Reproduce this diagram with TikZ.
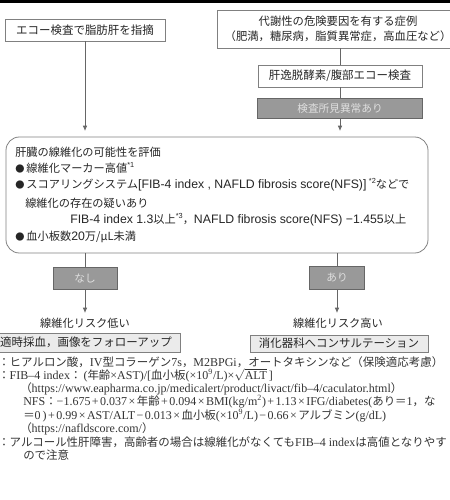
\documentclass[tikz,border=0pt]{standalone}
\usepackage{fontspec}
\setmainfont{Liberation Serif}
\newfontfamily\jp{Noto Sans CJK JP}
\newfontfamily\lsans{Liberation Sans}
\usetikzlibrary{arrows.meta}
\newcommand\J[1]{{\jp\fontsize{8.6}{10}\selectfont #1}}
\newcommand\LS[1]{{\lsans\fontsize{9.2}{10}\selectfont #1}}
\newcommand\op[1]{\hspace{0.12em}#1\hspace{0.12em}}
\newcommand\sus[1]{\raisebox{0.45em}{\lsans\fontsize{5.5}{5.5}\selectfont #1}}
\newcommand\bul{\makebox[1em][l]{\scalebox{0.82}{●}}}
\begin{document}
\begin{tikzpicture}[x=0.75pt,y=-0.75pt,
  bx/.style={draw=black!50, line width=0.5pt, fill=white, inner sep=0pt,
    font=\jp\fontsize{8.6}{11.3}\selectfont, text=black!85},
  gbx/.style={draw=black!60, line width=0.5pt, fill=black!40, inner sep=0pt,
    font=\jp\fontsize{8}{10}\selectfont, text=white!88!black},
  lbx/.style={bx, fill=black!8},
  ln/.style={draw=black!60, line width=0.6pt},
  arr/.style={ln, -{Latex[length=4pt,width=3.5pt]}},
  tx/.style={font=\jp\fontsize{8.4}{10}\selectfont, text=black!85, inner sep=0pt, anchor=west},
  lab/.style={font=\jp\fontsize{8.4}{10}\selectfont, text=black!85, inner sep=0pt},
  fn/.style={font=\fontsize{9}{10}\selectfont, text=black!80, inner sep=0pt, anchor=west,
    text height=5.6pt, text depth=1.4pt}
]
\useasboundingbox (0,0) rectangle (450,500);
\fill[black] (0,0) rectangle (450,2.5);

% top boxes
\node[bx, minimum width=160*0.75pt, minimum height=22*0.75pt] (b1) at (85,30) {エコー検査で脂肪肝を指摘};
\node[bx, minimum width=242*0.75pt, minimum height=38*0.75pt, align=center,
  font=\jp\fontsize{8.5}{11.3}\selectfont] (b2) at (338,29)
  {代謝性の危険要因を有する症例\\（肥満，糖尿病，脂質異常症，高血圧など）};
\node[bx, minimum width=164*0.75pt, minimum height=22*0.75pt] (b3) at (340,76) {肝逸脱酵素/腹部エコー検査};
\node[gbx, minimum width=165*0.75pt, minimum height=20*0.75pt] (g1) at (340,108) {検査所見異常あり};

% big rounded box
\node[draw=black!50, line width=0.6pt, fill=white, rounded corners=10pt,
  minimum width=422*0.75pt, minimum height=116*0.75pt, inner sep=0pt] (R) at (217,195) {};
\node[tx] (l1) at (15,152) {肝臓の線維化の可能性を評価};
\node[tx] (l2) at (15,168) {\bul 線維化マーカー高値\sus{*1}};
\node[tx] (l3) at (15,185) {\bul スコアリングシステム\LS{[FIB-4 index , NAFLD fibrosis score(NFS)]} \sus{*2}などで};
\node[tx] (l4) at (25,203) {線維化の存在の疑いあり};
\node[tx] (l5) at (70,220) {\LS{FIB-4 index 1.3}以上\sus{*3}，\LS{NAFLD fibrosis score(NFS) −1.455}以上};
\node[tx] (l6) at (15,237) {\bul 血小板数\LS{20}万/μL未満};

% outcome boxes
\node[gbx, minimum width=64*0.75pt, minimum height=22*0.75pt] (g2) at (85,278) {なし};
\node[gbx, minimum width=55*0.75pt, minimum height=23*0.75pt] (g3) at (337,278) {あり};
\node[lab] (t1) at (85,323) {線維化リスク低い};
\node[lab] (t2) at (338,323) {線維化リスク高い};
\node[lbx, minimum width=188*0.75pt, minimum height=19*0.75pt] (b4) at (86,342.5) {適時採血，画像をフォローアップ};
\node[lbx, minimum width=178*0.75pt, minimum height=17*0.75pt] (b5) at (339,343.5) {消化器科へコンサルテーション};

% connectors
\coordinate (a1) at (85,131);
\coordinate (a2) at (340,131);
\coordinate (r1) at (85,253);
\coordinate (r2) at (337,253);
\coordinate (a3) at (85,313);
\coordinate (a4) at (337,313);
\draw[arr] (b1.south) -- (a1);
\draw[ln] (b2.south -| b3.north) -- (b3.north);
\draw[ln] (b3.south) -- (g1.north);
\draw[arr] (g1.south) -- (a2);
\draw[ln] (r1) -- (g2.north);
\draw[arr] (g2.south) -- (a3);
\draw[ln] (r2) -- (g3.north);
\draw[arr] (g3.south) -- (a4);

% footnotes
\node[fn] (f1) at (-2,364) {\J{：ヒアルロン酸，}IV\J{型コラーゲン}7s\J{，}M2BPGi\J{，オートタキシンなど（保険適応考慮）}};
\node[fn] (f2) at (-2,377) {\J{：}FIB–4 index\J{：}\,(\J{年齢}×AST)/[\J{血小板}(×10\textsuperscript{9}/L)×$\sqrt{\mbox{ALT}}$\,]};
\node[fn] (f3) at (20,390) {\J{（}https://www.eapharma.co.jp/medicalert/product/livact/fib–4/caculator.html\J{）}};
\node[fn] (f4) at (23,403) {NFS\J{：}−1.675\op{+}0.037\op{×}\J{年齢}\op{+}0.094\op{×}BMI(kg/m\textsuperscript{2})\op{+}1.13\op{×}IFG/diabetes(\J{あり＝}1\J{，な}};
\node[fn] (f5) at (23,417) {\J{＝}0\,)\op{+}0.99\op{×}AST/ALT\op{−}0.013\op{×}\J{血小板}(×10\textsuperscript{9}/L)\op{−}0.66\op{×}\J{アルブミン}(g/dL)};
\node[fn] (f6) at (20,430) {\J{（}https://nafldscore.com/\J{）}};
\node[fn] (f7) at (-2,444) {\J{：アルコール性肝障害，高齢者の場合は線維化がなくても}FIB–4 index\J{は高値となりやす}};
\node[fn] (f8) at (23,457) {\J{ので注意}};
\end{tikzpicture}
\end{document}
